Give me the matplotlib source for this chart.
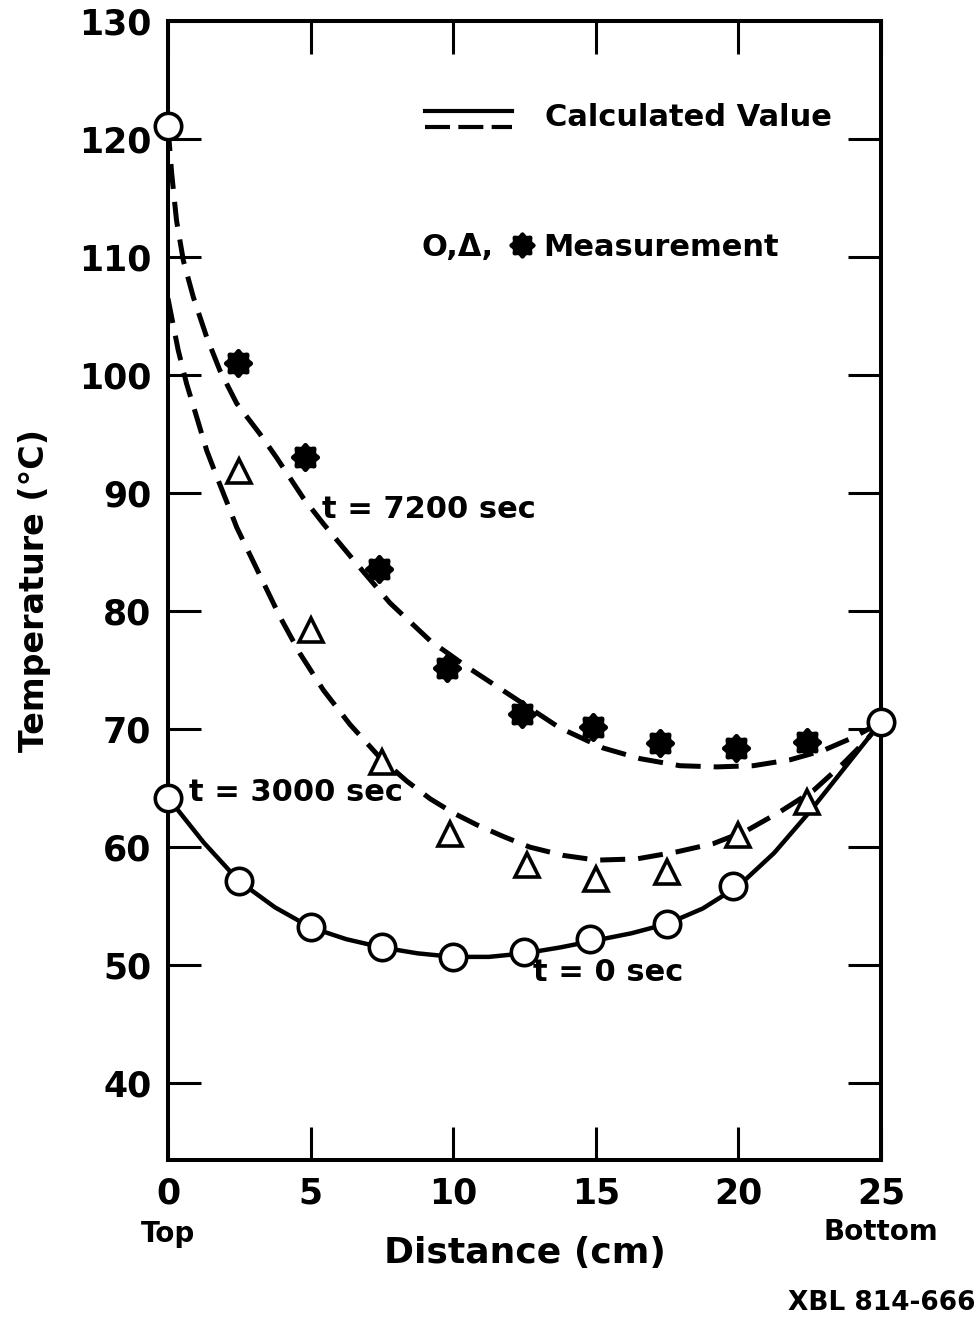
import numpy as np
import matplotlib
matplotlib.use('Agg')
import matplotlib.pyplot as plt
from matplotlib.path import Path

# ── data ────────────────────────────────────────────────────────────────────
# measurements
circle_x = [0, 2.5, 5, 7.5, 10, 12.5, 14.8, 17.5, 19.8, 25]
circle_y = [64.2, 57.1, 53.2, 51.5, 50.7, 51.1, 52.2, 53.5, 56.7, 70.6]
top_x = [0]
top_y = [121.1]
tri_x = [2.5, 5, 7.5, 9.9, 12.6, 15, 17.5, 20, 22.4]
tri_y = [91.9, 78.4, 67.2, 61.1, 58.5, 57.3, 57.9, 61.0, 63.8]
star_x = [2.47, 4.8, 7.4, 9.8, 12.4, 14.9, 17.25, 19.9, 22.4]
star_y = [101.0, 93.1, 83.6, 75.2, 71.3, 70.2, 68.8, 68.4, 68.9]

# calculated curves
calc0_x = [0, 1.25, 2.5, 3.75, 5, 6.25, 7.5, 8.75, 10, 11.25, 12.5,
           13.75, 15, 16.25, 17.5, 18.75, 20, 21.25, 22.5, 23.75, 25]
calc0_y = [64.2, 60.4, 57.1, 54.9, 53.2, 52.2, 51.5, 51.0, 50.7, 50.7, 51.0,
           51.5, 52.1, 52.7, 53.5, 54.8, 56.7, 59.5, 63.0, 66.8, 70.6]

calc3000_x = [0, 0.13, 0.36, 0.65, 1.0, 1.36, 1.71, 2.17, 2.41, 3.93, 4.63,
              5.45, 6.38, 7.43, 8.37, 9.19, 10.0, 10.82, 11.76, 12.69, 13.86,
              15.03, 16.43, 17.84, 19.12, 20.29, 21.46, 22.63, 23.68, 24.5, 25]
calc3000_y = [106.5, 104.9, 102.1, 99.3, 96.5, 93.6, 91.4, 88.6, 87.1, 79.5, 76.4,
              73.3, 70.4, 67.6, 65.6, 64.1, 62.9, 61.9, 60.9, 60.0, 59.3,
              58.9, 59.0, 59.6, 60.3, 61.4, 63.0, 64.8, 67.1, 69.1, 70.6]

calc7200_x = [0, 0.13, 0.30, 0.54, 0.89, 1.36, 1.82, 2.41, 3.23, 3.81, 4.74,
              5.45, 6.62, 7.78, 9.19, 10.47, 12.11, 13.74, 15.26, 16.55, 17.95,
              19.24, 20.52, 21.81, 22.98, 24.03, 25]
calc7200_y = [121.1, 117.1, 113.1, 109.7, 106.6, 103.2, 100.4, 97.6, 95.0, 93.0, 89.6,
              87.4, 84.0, 80.7, 77.5, 75.3, 72.7, 70.1, 68.4, 67.5, 66.9,
              66.8, 66.9, 67.4, 68.2, 69.3, 70.6]

xticks = [0, 5, 10, 15, 20, 25]
yticks = [40, 50, 60, 70, 80, 90, 100, 110, 120, 130]

# ── style ───────────────────────────────────────────────────────────────────
INK = 'black'
plt.rcParams['font.family'] = ['DejaVu Sans']
plt.rcParams['font.weight'] = 'bold'

# rounded 8-lobed blob used for the t = 7200 s measurements
th = np.linspace(0, 2 * np.pi, 97)
r = 0.9 + 0.1 * np.cos(8 * th)
blob = Path(np.column_stack([r * np.cos(th), r * np.sin(th)]))

fig = plt.figure(figsize=(9.8, 13.21), dpi=100)
ax = fig.add_axes([0.1714, 0.122, 0.7276, 0.862])

ax.plot(calc0_x, calc0_y, color=INK, lw=3.2, solid_capstyle='round', zorder=2)
ax.plot(calc3000_x, calc3000_y, color=INK, lw=3.6, dashes=(5, 2.6), zorder=2)
ax.plot(calc7200_x, calc7200_y, color=INK, lw=3.6, dashes=(5, 2.6), zorder=2)

ax.plot(circle_x, circle_y, 'o', ms=19, mfc='white', mec=INK, mew=2.6,
        clip_on=False, zorder=4)
ax.plot(top_x, top_y, 'o', ms=19, mfc='white', mec=INK, mew=2.6,
        clip_on=False, zorder=4)
ax.plot(tri_x, tri_y, '^', ms=17, mfc='white', mec=INK, mew=2.6, zorder=4)
ax.plot(star_x, star_y, marker=blob, ls='none', ms=21, mfc=INK, mew=0,
        zorder=4)

ax.set_xlim(0, 25)
ax.set_ylim(33.5, 130)
ax.set_xticks(xticks)
ax.set_yticks(yticks)
ax.tick_params(direction='in', length=24, width=2.2, top=True, right=True,
               labelsize=25, pad=12)
for lab in ax.get_xticklabels() + ax.get_yticklabels():
    lab.set_fontweight('bold')
for sp in ax.spines.values():
    sp.set_linewidth(2.9)

# axis labels
ax.set_ylabel('Temperature (°C)', fontsize=24, fontweight='bold', labelpad=20)
ax.set_xlabel('Distance (cm)', fontsize=26, fontweight='bold', labelpad=18)
ax.text(0, -0.065, 'Top', transform=ax.transAxes, ha='center', va='center',
        fontsize=20, fontweight='bold')
ax.text(1.0, -0.063, 'Bottom', transform=ax.transAxes, ha='center',
        va='center', fontsize=20, fontweight='bold')
fig.text(0.995, 0.014, 'XBL 814-666', ha='right', va='center', fontsize=19,
         fontweight='bold')

# curve labels
ax.text(5.4, 88.6, 't = 7200 sec', ha='left', va='center', fontsize=22,
        fontweight='bold')
ax.text(0.75, 64.6, 't = 3000 sec', ha='left', va='center', fontsize=22,
        fontweight='bold')
ax.text(12.8, 49.4, 't = 0 sec', ha='left', va='center', fontsize=22,
        fontweight='bold')

# hand-drawn legend
ax.plot([0.360, 0.482], [0.921, 0.921], transform=ax.transAxes, color=INK,
        lw=3.0)
ax.plot([0.360, 0.482], [0.907, 0.907], transform=ax.transAxes, color=INK,
        lw=3.0, dashes=(6, 2))
ax.text(0.529, 0.915, 'Calculated Value', transform=ax.transAxes,
        ha='left', va='center', fontsize=22, fontweight='bold')
ax.text(0.355, 0.801, 'O,Δ,', transform=ax.transAxes, ha='left',
        va='center', fontsize=22, fontweight='bold')
ax.plot([0.497], [0.803], transform=ax.transAxes, marker=blob, ls='none',
        ms=19, mfc=INK, mew=0)
ax.text(0.526, 0.801, 'Measurement', transform=ax.transAxes, ha='left',
        va='center', fontsize=22, fontweight='bold')

fig.savefig('out.png', dpi=100, facecolor='white')
